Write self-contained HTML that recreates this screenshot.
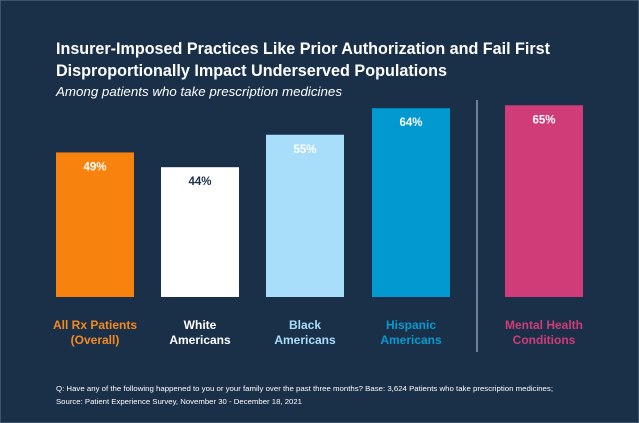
<!DOCTYPE html>
<html><head><meta charset="utf-8"><style>
body{margin:0;width:639px;height:423px;overflow:hidden;background:#1a3049;font-family:"Liberation Sans",sans-serif}
svg{display:block}
</style></head><body>
<svg id="c" width="639" height="423">
<rect x="0" y="0" width="639" height="423" fill="#1a3049" stroke="#4a6078" stroke-width="1.5"/>
<text x="56" y="54" fill="#fff" font-size="16.5" font-weight="bold" textLength="494" lengthAdjust="spacingAndGlyphs">Insurer-Imposed Practices Like Prior Authorization and Fail First</text>
<text x="56" y="76" fill="#fff" font-size="16.5" font-weight="bold" textLength="391" lengthAdjust="spacingAndGlyphs">Disproportionally Impact Underserved Populations</text>
<text x="56" y="96" fill="#fff" font-size="12.5" font-style="italic" textLength="286" lengthAdjust="spacingAndGlyphs">Among patients who take prescription medicines</text>
<line x1="477" y1="100" x2="477" y2="352" stroke="#c8d0d8" stroke-width="1"/>
<text x="56" y="391" fill="#fff" font-size="7.6" textLength="497" lengthAdjust="spacingAndGlyphs">Q: Have any of the following happened to you or your family over the past three months? Base: 3,624 Patients who take prescription medicines;</text>
<text x="56" y="404" fill="#fff" font-size="7.6" textLength="246" lengthAdjust="spacingAndGlyphs">Source: Patient Experience Survey, November 30 - December 18, 2021</text>
<g id="bars"></g>
</svg>
<script>
const categories=[["All Rx Patients","(Overall)"],["White","Americans"],["Black","Americans"],["Hispanic","Americans"],["Mental Health","Conditions"]];
const values=[49,44,55,64,65];
const valueLabels=["49%","44%","55%","64%","65%"];
const colors=["#f7820e","#ffffff","#a9defa","#0299d0","#d03c78"];
const labelColors=["#f58a1f","#ffffff","#a9defa","#0a9ad0","#d03c78"];
const xLeft=[56,161,266,372,505];
const bw=78,base=297,ppu=2.95;
const y=v=>base-v*ppu;
const g=document.getElementById('bars');
const NS='http://www.w3.org/2000/svg';
values.forEach((v,i)=>{
 const r=document.createElementNS(NS,'rect');
 r.setAttribute('x',xLeft[i]);r.setAttribute('y',y(v));r.setAttribute('width',bw);r.setAttribute('height',base-y(v));r.setAttribute('fill',colors[i]);
 
 
 g.appendChild(r);
 const t=document.createElementNS(NS,'text');
 t.setAttribute('x',xLeft[i]+bw/2);t.setAttribute('y',y(v)+18);t.setAttribute('text-anchor','middle');t.setAttribute('font-size','11.5');t.setAttribute('font-weight','bold');
 t.setAttribute('fill',i==1?'#1a3049':'#fff');t.textContent=valueLabels[i];
 
 
 g.appendChild(t);
 categories[i].forEach((s,j)=>{
  const c=document.createElementNS(NS,'text');
  c.setAttribute('x',xLeft[i]+bw/2);c.setAttribute('y',329+j*15);c.setAttribute('text-anchor','middle');c.setAttribute('font-size','12');c.setAttribute('font-weight','bold');c.setAttribute('fill',labelColors[i]);c.textContent=s;
  
  
  g.appendChild(c);
 });
});
</script>
</body></html>
